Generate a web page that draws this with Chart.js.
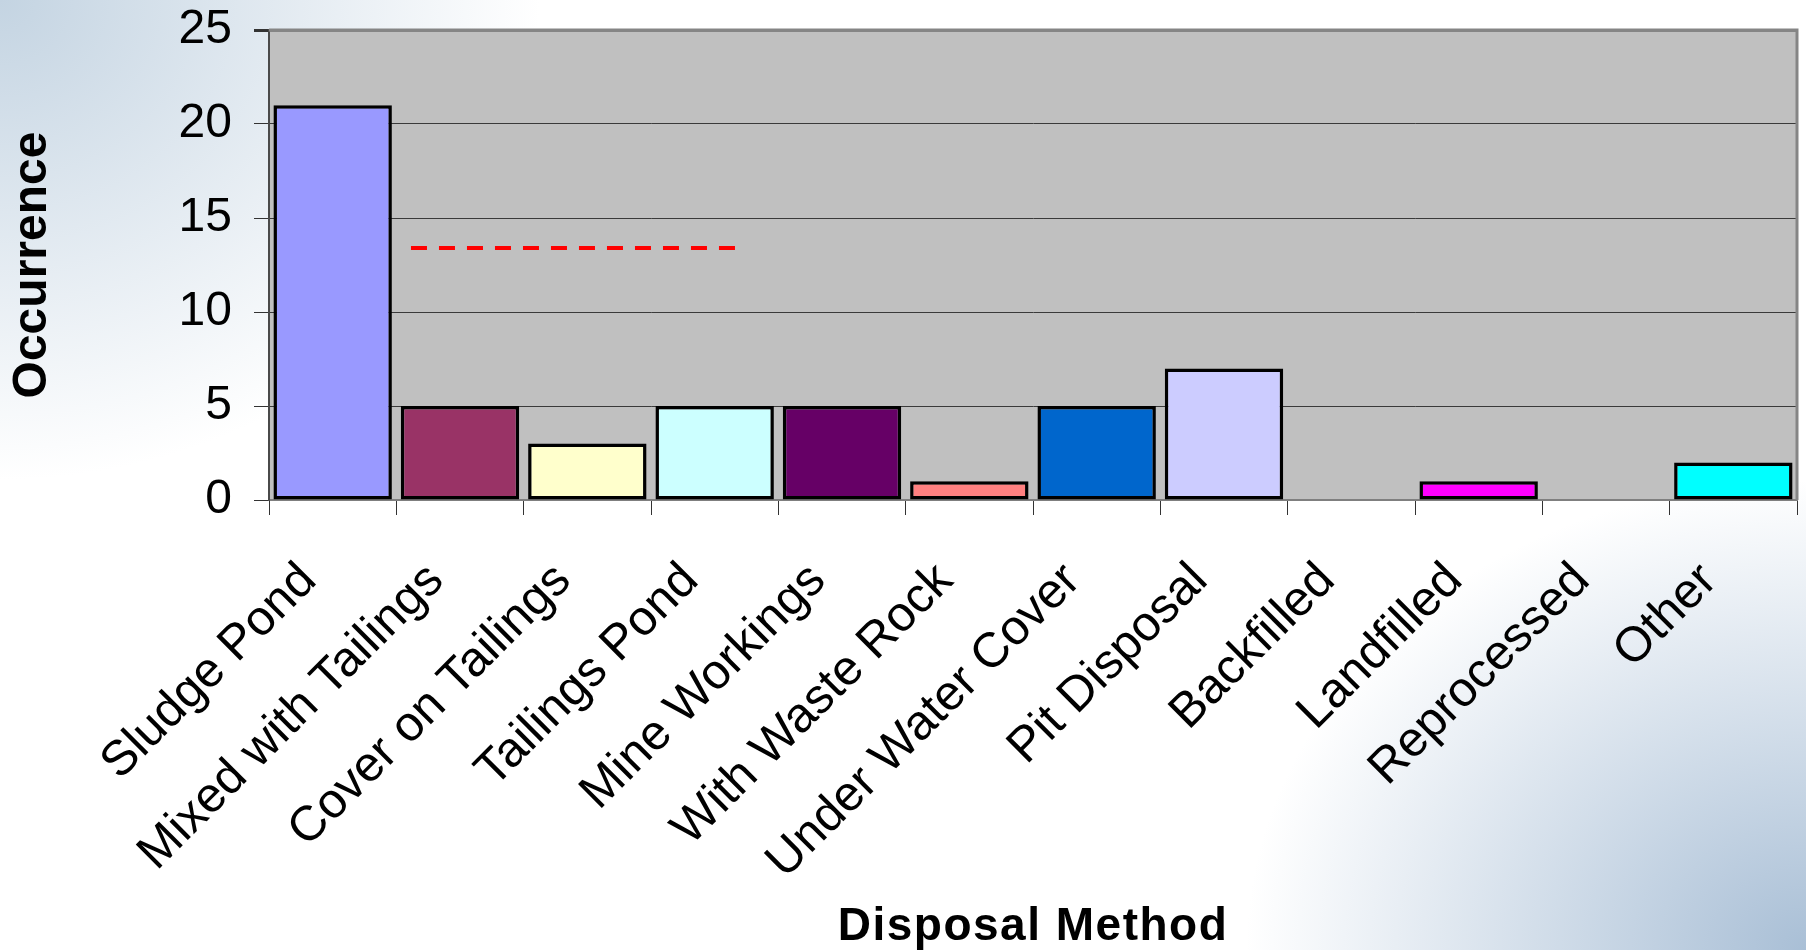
<!DOCTYPE html>
<html>
<head>
<meta charset="utf-8">
<title>Disposal Method</title>
<script src="https://cdn.jsdelivr.net/npm/chart.js@4.4.1/dist/chart.umd.min.js"></script>
<style>
  html, body { margin: 0; padding: 0; }
  body {
    width: 1806px; height: 950px; overflow: hidden;
    background:
      radial-gradient(ellipse 560px 470px at 100% 100%, #a9bfd6 0%, rgba(255,255,255,0) 100%),
      radial-gradient(ellipse 540px 480px at 0 0, #c4d4e2 0%, rgba(255,255,255,0) 100%),
      #ffffff;
  }
  #chart { position: absolute; left: 0; top: 0; }
</style>
</head>
<body>
<canvas id="chart" width="1806" height="950"></canvas>
<script>
// Disposal methods and how often each one occurs
const categories = [
  'Sludge Pond', 'Mixed with Tailings', 'Cover on Tailings', 'Tailings Pond',
  'Mine Workings', 'With Waste Rock', 'Under Water Cover', 'Pit Disposal',
  'Backfilled', 'Landfilled', 'Reprocessed', 'Other'
];
const occurrences = [21, 5, 3, 5, 5, 1, 5, 7, 0, 1, 0, 2];
const barColors = [
  '#9999FF', '#993366', '#FFFFCC', '#CCFFFF',
  '#660066', '#FF8080', '#0066CC', '#CCCCFF',
  '#000080', '#FF00FF', '#FFFF00', '#00FFFF'
];
const yTickValues = [0, 5, 10, 15, 20, 25];

// Dashed reference level: x as positions on the category axis (index units), y in occurrences
const refLineX = [0.615, 3.165];
const refLineY = [13.4, 13.4];

const FONT = "'Liberation Sans', Arial, Helvetica, sans-serif";

// Grey plot area and its grey frame
const plotFrame = {
  id: 'plotFrame',
  beforeDraw(chart) {
    const { ctx, chartArea: a } = chart;
    ctx.save();
    ctx.fillStyle = '#C0C0C0';
    ctx.fillRect(a.left, a.top, a.right - a.left, a.bottom - a.top);
    ctx.restore();
  },
  beforeDatasetsDraw(chart) {
    const { ctx, chartArea: a } = chart;
    ctx.save();
    ctx.strokeStyle = '#858585';
    ctx.lineWidth = 3;
    ctx.beginPath();
    ctx.moveTo(a.left, a.top);
    ctx.lineTo(a.right, a.top);
    ctx.lineTo(a.right, a.bottom);
    ctx.stroke();
    ctx.restore();
  }
};

// Red dashed level, placed through the chart's own x and y scales
const refLine = {
  id: 'refLine',
  afterDatasetsDraw(chart) {
    const { ctx } = chart;
    const xs = chart.scales.x, ys = chart.scales.y;
    ctx.save();
    ctx.strokeStyle = '#FF0000';
    ctx.lineWidth = 4;
    ctx.lineCap = 'butt';
    ctx.setLineDash([16, 12]);
    ctx.beginPath();
    refLineX.forEach((v, i) => {
      const px = xs.getPixelForValue(v);
      const py = ys.getPixelForValue(refLineY[i]);
      if (i === 0) ctx.moveTo(px, py); else ctx.lineTo(px, py);
    });
    ctx.stroke();
    ctx.restore();
  }
};

// Slightly spaced lettering for the x-axis title
const spacedTitle = {
  id: 'spacedTitle',
  afterLayout(chart) {
    const sx = chart.scales.x;
    if (sx._spacedTitle) return;
    const orig = sx.drawTitle;
    sx.drawTitle = function (...args) {
      const ctx = this.ctx;
      ctx.save();
      ctx.letterSpacing = '1.5px';
      orig.apply(this, args);
      ctx.restore();
    };
    sx._spacedTitle = true;
  }
};

// Scales keep a fixed size, without extra room for overhanging labels
function noOverhang(scale) {
  scale.paddingTop = 0;
  scale.paddingBottom = 0;
  scale.paddingLeft = 0;
  scale.paddingRight = 0;
}

new Chart(document.getElementById('chart'), {
  type: 'bar',
  data: {
    labels: categories,
    datasets: [
      {
        data: occurrences,
        backgroundColor: barColors,
        borderColor: '#000000',
        borderWidth: 3.5,
        borderSkipped: false,
        categoryPercentage: 1.0,
        barPercentage: 0.93
      }
    ]
  },
  options: {
    responsive: false,
    animation: false,
    layout: { padding: { top: 30, right: 9, bottom: 0, left: 0 } },
    plugins: {
      legend: { display: false },
      tooltip: { enabled: false }
    },
    scales: {
      x: {
        type: 'category',
        position: 'bottom',
        offset: true,
        afterFit(scale) { scale.height = 450; noOverhang(scale); },
        grid: {
          display: true,
          drawOnChartArea: false,
          offset: true,
          tickLength: 15,
          color: '#333333',
          lineWidth: 1
        },
        border: { display: true, color: '#7f7f7f', width: 2 },
        ticks: {
          autoSkip: false,
          minRotation: 45,
          maxRotation: 45,
          labelOffset: -24,
          padding: 37,
          color: '#000000',
          font: { family: FONT, size: 49 }
        },
        title: {
          display: true,
          text: 'Disposal Method',
          color: '#000000',
          font: { family: FONT, size: 46, weight: 'bold', lineHeight: 1.0 },
          padding: { top: 0, bottom: 0 }
        }
      },
      y: {
        type: 'linear',
        min: 0,
        max: 25,
        afterFit(scale) { scale.width = 269; noOverhang(scale); },
        afterBuildTicks(scale) { scale.ticks = yTickValues.map(v => ({ value: v })); },
        grid: {
          color: (c) => (c.tick && c.tick.value === 25 ? '#858585' : '#3a3a3a'),
          lineWidth: (c) => (c.tick && c.tick.value === 25 ? 3 : 1),
          tickColor: '#333333',
          tickLength: 15
        },
        border: { display: true, color: '#4a4a4a', width: 2 },
        ticks: {
          padding: 22,
          color: '#000000',
          font: { family: FONT, size: 48 }
        },
        title: {
          display: true,
          text: 'Occurrence',
          color: '#000000',
          font: { family: FONT, size: 48, weight: 'bold' },
          padding: { top: 4, bottom: 0 }
        }
      }
    }
  },
  plugins: [plotFrame, refLine, spacedTitle]
});
</script>
</body>
</html>
